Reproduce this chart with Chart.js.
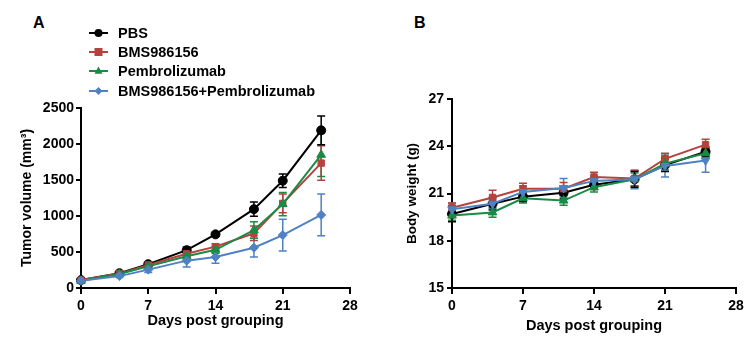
<!DOCTYPE html>
<html lang="en">
<head>
  <meta charset="UTF-8" />
  <title>Tumor volume and body weight</title>
  <script src="https://cdn.jsdelivr.net/npm/chart.js"></script>
  <style>
    body { margin: 0; background: #fff; width: 748px; height: 350px; overflow: hidden; position: relative; }
    .panel { position: absolute; top: 0; width: 374px; height: 350px; }
    .tag { position: absolute; font: bold 16px "Liberation Sans", Arial, sans-serif; line-height: 16px; color: #000; }
  </style>
</head>
<body>
  <div class="tag" style="left:33px; top:15px;">A</div>
  <div class="tag" style="left:414px; top:15px;">B</div>
  <div class="panel" style="left:0;"><canvas id="chartA" width="374" height="350"></canvas></div>
  <div class="panel" style="left:374px;"><canvas id="chartB" width="374" height="350"></canvas></div>

  <script>
    // data
    const days = [0, 4, 7, 11, 14, 18, 21, 25];
    const groups = ["PBS", "BMS986156", "Pembrolizumab", "BMS986156+Pembrolizumab"];
    const colors = ["#000000", "#b5423c", "#1a8a45", "#4f81c3"];

    // tumor volume (mm3), mean and error
    const volPBS   = [110, 205, 330, 525, 745, 1095, 1490, 2190];
    const volBMS   = [110, 200, 320, 475, 575, 760, 1175, 1735];
    const volPem   = [100, 195, 300, 440, 530, 805, 1165, 1850];
    const volCombo = [100, 165, 255, 380, 430, 560, 735, 1015];
    const volPBSErr   = [10, 15, 25, 45, 25, 100, 95, 200];
    const volBMSErr   = [10, 20, 25, 40, 40, 100, 130, 240];
    const volPemErr   = [10, 15, 25, 55, 50, 115, 160, 300];
    const volComboErr = [10, 20, 40, 90, 85, 130, 220, 290];

    // body weight (g), mean and error
    const wPBS   = [19.7, 20.35, 20.8, 21.05, 21.55, 21.9, 22.8, 23.65];
    const wBMS   = [20.1, 20.75, 21.3, 21.3, 22.05, 21.95, 23.2, 24.1];
    const wPem   = [19.6, 19.8, 20.7, 20.55, 21.4, 21.9, 22.9, 23.55];
    const wCombo = [20.0, 20.35, 21.1, 21.35, 21.8, 21.9, 22.75, 23.1];
    const wPBSErr   = [0.5, 0.4, 0.3, 0.4, 0.3, 0.5, 0.4, 0.3];
    const wBMSErr   = [0.3, 0.45, 0.35, 0.4, 0.3, 0.5, 0.35, 0.35];
    const wPemErr   = [0.3, 0.3, 0.3, 0.3, 0.3, 0.4, 0.4, 0.3];
    const wComboErr = [0.4, 0.3, 0.4, 0.6, 0.3, 0.6, 0.7, 0.75];

    const xTicks = [0, 7, 14, 21, 28];
    const volTicks = [0, 500, 1000, 1500, 2000, 2500];
    const wTicks = [15, 18, 21, 24, 27];

    const SANS = "'Liberation Sans', Arial, sans-serif";

    function makeSets(values, errors, markers) {
      return values.map((vals, k) => ({
        label: groups[k],
        data: days.map((d, i) => ({ x: d, y: vals[i] })),
        errors: errors[k],
        borderColor: colors[k],
        backgroundColor: colors[k],
        pointBackgroundColor: colors[k],
        pointBorderColor: colors[k],
        pointStyle: markers[k].style,
        rotation: markers[k].rot || 0,
        pointRadius: markers[k].r,
        pointBorderWidth: 1,
        borderWidth: 2,
        tension: 0,
        clip: false,
        order: 3 - k
      }));
    }

    const errorBars = {
      id: "errorBars",
      beforeDatasetsDraw(chart) {
        const { ctx, scales: { x, y } } = chart;
        for (let k = chart.data.datasets.length - 1; k >= 0; k--) {
          const ds = chart.data.datasets[k];
          ctx.save();
          ctx.strokeStyle = ds.borderColor;
          ctx.lineWidth = 1.5;
          ds.data.forEach((p, i) => {
            const e = ds.errors[i];
            const px = x.getPixelForValue(p.x);
            const top = y.getPixelForValue(p.y + e);
            const bot = y.getPixelForValue(p.y - e);
            ctx.beginPath();
            ctx.moveTo(px, top); ctx.lineTo(px, bot);
            ctx.moveTo(px - 4, top); ctx.lineTo(px + 4, top);
            ctx.moveTo(px - 4, bot); ctx.lineTo(px + 4, bot);
            ctx.stroke();
          });
          ctx.restore();
        }
      }
    };

    function drawMarker(ctx, style, cx, cy, r) {
      ctx.beginPath();
      if (style === "circle") {
        ctx.arc(cx, cy, r, 0, Math.PI * 2);
      } else if (style === "rect") {
        ctx.rect(cx - r, cy - r, 2 * r, 2 * r);
      } else if (style === "triangle") {
        ctx.moveTo(cx, cy - r * 1.1);
        ctx.lineTo(cx + r, cy + r * 0.7);
        ctx.lineTo(cx - r, cy + r * 0.7);
        ctx.closePath();
      } else {
        ctx.moveTo(cx, cy - r); ctx.lineTo(cx + r, cy);
        ctx.lineTo(cx, cy + r); ctx.lineTo(cx - r, cy);
        ctx.closePath();
      }
      ctx.fill();
    }

    const legendRows = [33, 52, 71, 91];
    const legendStyles = ["circle", "rect", "triangle", "rectRot"];
    const lineLegend = {
      id: "lineLegend",
      afterDraw(chart) {
        const ctx = chart.ctx;
        ctx.save();
        groups.forEach((g, k) => {
          const y = legendRows[k];
          ctx.strokeStyle = colors[k];
          ctx.fillStyle = colors[k];
          ctx.lineWidth = 2;
          ctx.beginPath();
          ctx.moveTo(89, y); ctx.lineTo(108, y);
          ctx.stroke();
          drawMarker(ctx, legendStyles[k], 98.5, y, 4);
          ctx.fillStyle = "#000";
          ctx.font = "bold 14.5px " + SANS;
          ctx.textBaseline = "middle";
          ctx.fillText(g, 118, y + 1);
        });
        ctx.restore();
      }
    };

    function axisOptions(ticks, yTitle, yPadTop, yWidth, xTitlePad, yTitleSize, yTickPad) {
      return {
        x: {
          type: "linear",
          min: 0, max: 28,
          afterBuildTicks: s => { s.ticks = xTicks.map(v => ({ value: v })); },
          afterFit: s => { s.height = 62; },
          border: { display: true, color: "#000", width: 2 },
          grid: { display: true, drawOnChartArea: false, drawTicks: true, tickLength: 6, color: "#000", lineWidth: 2 },
          ticks: { color: "#000", padding: 4, maxRotation: 0, callback: v => String(v),
                   font: { family: SANS, size: 14, weight: "bold" } },
          title: { display: true, text: "Days post grouping", color: "#000",
                   padding: { top: 0, bottom: xTitlePad }, font: { family: SANS, size: 14.5, weight: "bold" } }
        },
        y: {
          type: "linear",
          min: ticks[0], max: ticks[ticks.length - 1],
          afterBuildTicks: s => { s.ticks = ticks.map(v => ({ value: v })); },
          afterFit: s => { s.width = yWidth; },
          border: { display: true, color: "#000", width: 2 },
          grid: { display: true, drawOnChartArea: false, drawTicks: true, tickLength: 5, color: "#000", lineWidth: 2 },
          ticks: { color: "#000", padding: yTickPad, callback: v => String(v),
                   font: { family: SANS, size: 14, weight: "bold" } },
          title: { display: true, text: yTitle, color: "#000",
                   padding: { top: yPadTop, bottom: 0 }, font: { family: SANS, size: yTitleSize, weight: "bold" } }
        }
      };
    }

    const baseOptions = {
      responsive: false,
      animation: false,
      plugins: { legend: { display: false }, tooltip: { enabled: false } }
    };

    new Chart(document.getElementById("chartA"), {
      type: "line",
      data: {
        datasets: makeSets(
          [volPBS, volBMS, volPem, volCombo],
          [volPBSErr, volBMSErr, volPemErr, volComboErr],
          [{ style: "circle", r: 4.5 }, { style: "rect", r: 4.5 }, { style: "triangle", r: 5 }, { style: "rectRot", r: 4.5 }]
        )
      },
      options: Object.assign({}, baseOptions, {
        layout: { padding: { left: 0, top: 108, right: 24, bottom: 0 } },
        scales: axisOptions(volTicks, "Tumor volume (mm³)", 19, 81, 20, 14, 2)
      }),
      plugins: [errorBars, lineLegend]
    });

    new Chart(document.getElementById("chartB"), {
      type: "line",
      data: {
        datasets: makeSets(
          [wPBS, wBMS, wPem, wCombo],
          [wPBSErr, wBMSErr, wPemErr, wComboErr],
          [{ style: "circle", r: 4.5 }, { style: "rect", r: 4.5 }, { style: "triangle", r: 5 }, { style: "triangle", r: 5, rot: 180 }]
        )
      },
      options: Object.assign({}, baseOptions, {
        layout: { padding: { left: 0, top: 99, right: 12, bottom: 0 } },
        scales: axisOptions(wTicks, "Body weight (g)", 30, 78, 15, 13.5, 3)
      }),
      plugins: [errorBars]
    });
  </script>
</body>
</html>
